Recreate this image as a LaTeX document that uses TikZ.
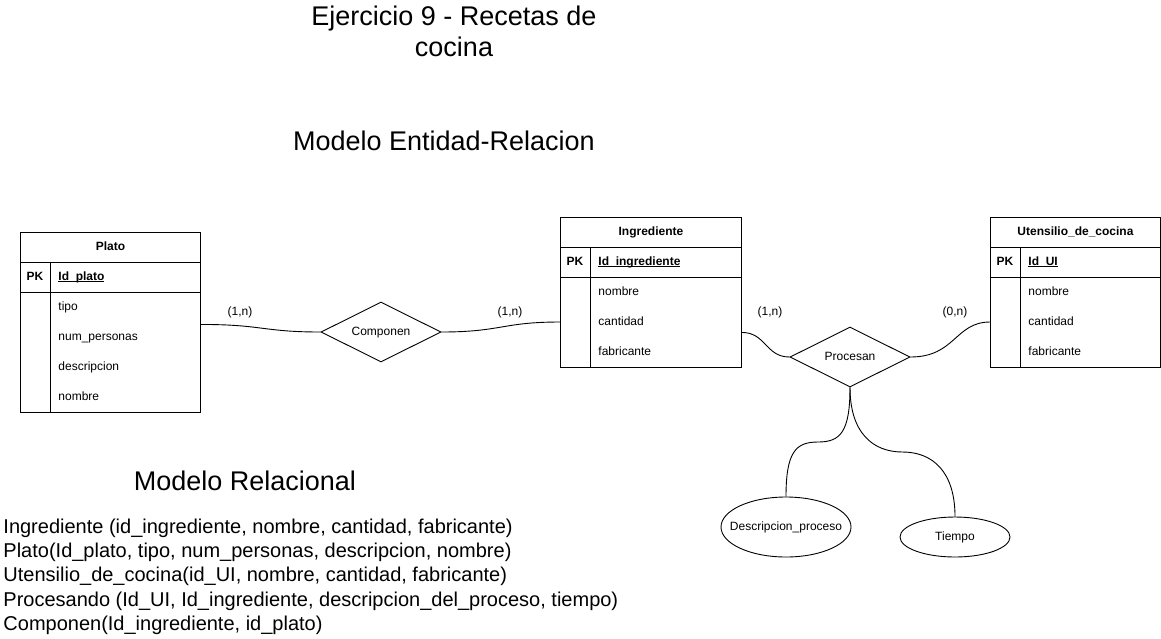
\documentclass[tikz,border=0pt]{standalone}
\usepackage{fontspec}
\setmainfont{Liberation Sans}
\usetikzlibrary{shapes.geometric}
\usetikzlibrary{positioning}
\usetikzlibrary{calc}

\newcommand{\subrayado}[1]{\setbox0\hbox{#1}\rlap{\vrule height -1pt depth 2pt width \wd0}\box0}

\tikzset{
        texto/.style={font=\fontsize{12}{14}\selectfont, text height=8.6pt, text depth=2.4pt},
        tabla/.style={draw, anchor=north west, inner sep=0pt},
        cabecera/.style={texto, font=\fontsize{12}{14}\selectfont\bfseries},
        campo/.style={texto, anchor=west, inner xsep=8pt},
        relacion/.style={texto, draw, diamond, aspect=2, minimum width=120, minimum height=60, inner sep=0pt},
        atributo/.style={texto, draw, ellipse, inner sep=0pt},
        card/.style={texto},
        titulo/.style={align=center, font=\fontsize{27}{31}\selectfont},
        modelo/.style={anchor=base west, inner sep=0pt, font=\fontsize{20}{24}\selectfont},
}

% nombre, esquina, ancho, titulo, clave, campos
\newcommand{\entidad}[6]{%
        \foreach \nom [count=\i] in {#6} {\xdef\nfilas{\i}}
        \node[tabla, minimum width=#3, minimum height=60+30*\nfilas] (#1) at #2 {};
        \coordinate (#1-a) at ($(#1.north west)+(30,30)$);
        \draw (#1.north west |- #1-a) -- (#1.north east |- #1-a);
        \draw ($(#1.north west)+(0,60)$) -- ($(#1.north east)+(0,60)$);
        \draw (#1-a) -- (#1-a |- #1.south);
        \node[cabecera] (#1-t) at ($(#1.north)+(0,15)$) {#4};
        \node[cabecera] (#1-pk) at ($(#1.north west)+(15,45)$) {PK};
        \node[campo, font=\fontsize{12}{14}\selectfont\bfseries] (#1-id) at ($(#1-a)+(0,15)$) {\subrayado{#5}};
        \foreach \nom [count=\i] in {#6}
                \node[campo] (#1-\i) at ($(#1-a)+(0,15+30*\i)$) {\nom};
}

\begin{document}
\begin{tikzpicture}[x=1pt, y=-1pt, line width=0.9pt]
        \useasboundingbox (0,0) rectangle (1161,638);

        \node[titulo] (titulo) at (454,31) {Ejercicio 9 - Recetas de\\cocina};
        \node[titulo] (er) at (444,141) {Modelo Entidad-Relacion};
        \node[titulo] (mr) at (245,481) {Modelo Relacional};

        \entidad{plato}{(20,232)}{180}{Plato}{Id\_plato}{tipo, num\_personas, descripcion, nombre}
        \entidad{ingrediente}{(560,217)}{181}{Ingrediente}{Id\_ingrediente}{nombre, cantidad, fabricante}
        \entidad{utensilio}{(990,217)}{170}{Utensilio\_de\_cocina}{Id\_UI}{nombre, cantidad, fabricante}

        \node[relacion] (componen) at (381,332) {Componen};
        \node[relacion] (procesan) at (850,357) {Procesan};
        \node[atributo, minimum width=130, minimum height=60] (desc) at (786,527) {\makebox[0pt]{Descripcion\_proceso}};
        \node[atributo, minimum width=110, minimum height=40] (tiempo) at (955,537) {\makebox[0pt]{Tiempo}};

        \draw ($(plato.east)+(0,2)$) .. controls +(62,0) and +(-58,0) .. (componen.west);
        \draw (componen.east) .. controls +(60,0) and +(-58,0) .. (ingrediente.west |- ingrediente-2);
        \draw ($(ingrediente.east)+(0,40)$) .. controls +(24,0) and +(-24,0) .. (procesan.west);
        \draw (utensilio.west |- utensilio-2) .. controls +(-35,0) and +(45,0) .. (procesan.east);
        \draw (procesan.south) .. controls +(0,45) and +(22,0) .. ($(procesan.south)!0.5!(desc.north)$)
                .. controls +(-22,0) and +(0,-45) .. (desc.north);
        \draw (procesan.south) .. controls +(0,45) and +(-30,0) .. ($(procesan.south)!0.5!(tiempo.north)$)
                .. controls +(30,0) and +(0,-45) .. (tiempo.north);

        \node[card] (c1) at (240,312) {(1,n)};
        \node[card] (c2) at (510,312) {(1,n)};
        \node[card] (c3) at (770,312) {(1,n)};
        \node[card] (c4) at (955,312) {(0,n)};

        \foreach \linea [count=\i] in {%
                {Ingrediente (id\_ingrediente, nombre, cantidad, fabricante)},
                {Plato(Id\_plato, tipo, num\_personas, descripcion, nombre)},
                {Utensilio\_de\_cocina(id\_UI, nombre, cantidad, fabricante)},
                {Procesando (Id\_UI, Id\_ingrediente, descripcion\_del\_proceso, tiempo)},
                {Componen(Id\_ingrediente, id\_plato)}}
                \node[modelo] (rel-\i) at (3,509+24.3*\i) {\linea};
\end{tikzpicture}
\end{document}
